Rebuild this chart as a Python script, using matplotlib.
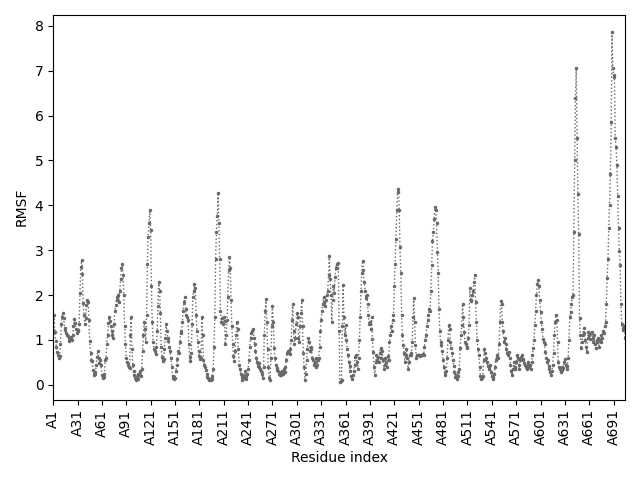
import matplotlib
matplotlib.use("Agg")
import matplotlib.pyplot as plt
import numpy as np

# RMSF per residue (chain A, residues 1..705)
rmsf = [
    1.22, 1.55, 1.18, 0.98, 0.85, 0.72, 0.66, 0.60, 0.64, 0.92,
    1.35, 1.52, 1.59, 1.48, 1.27, 1.22, 1.15, 1.12, 1.08, 1.04,
    0.98, 1.02, 1.06, 0.99, 1.10, 1.30, 1.46, 1.38, 1.25, 1.16,
    1.20, 1.22, 1.35, 2.05, 2.62, 2.77, 2.48, 1.82, 1.55, 1.35,
    1.48, 1.78, 1.90, 1.85, 1.45, 0.97, 0.70, 0.55, 0.52, 0.34,
    0.22, 0.28, 0.25, 0.45, 0.62, 0.75, 0.60, 0.48, 0.55, 0.45,
    0.22, 0.15, 0.18, 0.25, 0.55, 0.60, 0.92, 1.10, 1.38, 1.50,
    1.42, 1.30, 1.20, 1.12, 1.05, 1.35, 1.65, 1.78, 1.90, 1.96,
    2.00, 1.85, 2.10, 2.35, 2.60, 2.70, 2.45, 2.00, 1.30, 0.90,
    0.60, 0.50, 0.45, 0.40, 0.37, 1.10, 1.50, 0.80, 0.45, 0.30,
    0.22, 0.15, 0.10, 0.18, 0.25, 0.12, 0.22, 0.30, 0.20, 0.35,
    0.75, 1.10, 1.40, 1.25, 0.95, 1.55, 2.70, 3.30, 3.60, 3.90,
    3.45, 2.20, 1.40, 0.95, 0.80, 0.75, 0.68, 0.85, 1.20, 1.75,
    2.30, 2.10, 1.60, 0.85, 0.62, 0.52, 0.58, 0.80, 1.05, 1.35,
    1.20, 1.05, 0.98, 0.85, 0.75, 0.60, 0.40, 0.20, 0.15, 0.12,
    0.15, 0.30, 0.45, 0.58, 0.75, 0.70, 0.95, 1.20, 1.15, 1.40,
    1.65, 1.85, 1.95, 1.70, 1.55, 1.50, 1.45, 0.90, 0.62, 0.52,
    0.70, 1.35, 1.95, 2.10, 2.25, 2.15, 1.55, 1.20, 0.95, 0.75,
    0.65, 0.58, 0.60, 1.50, 1.10, 0.56, 0.45, 0.40, 0.32, 0.25,
    0.18, 0.15, 0.10, 0.12, 0.10, 0.12, 0.20, 0.35, 0.85, 1.50,
    2.80, 3.40, 3.75, 4.28, 3.60, 2.80, 1.65, 1.40, 1.48, 1.35,
    1.50, 1.42, 0.90, 1.10, 1.45, 1.95, 2.55, 2.85, 2.60, 1.90,
    1.30, 0.90, 0.65, 0.52, 0.75, 1.10, 1.39, 1.25, 0.80, 0.45,
    0.35, 0.25, 0.18, 0.11, 0.22, 0.15, 0.30, 0.20, 0.12, 0.25,
    0.35, 0.55, 0.85, 1.05, 1.15, 1.20, 1.24, 1.05, 0.90, 0.75,
    0.60, 0.50, 0.42, 0.48, 0.40, 0.35, 0.30, 0.25, 0.15, 0.40,
    1.10, 1.65, 1.91, 1.40, 0.80, 0.40, 0.15, 0.11, 0.60, 1.30,
    1.76, 1.40, 0.82, 0.60, 0.45, 0.37, 0.34, 0.30, 0.25, 0.22,
    0.28, 0.22, 0.30, 0.25, 0.35, 0.28, 0.40, 0.55, 0.70, 0.75,
    0.72, 0.68, 0.80, 1.00, 1.45, 1.80, 1.20, 0.90, 1.05, 1.35,
    1.60, 1.50, 1.05, 0.95, 1.30, 1.60, 1.90, 1.30, 0.70, 0.40,
    0.11, 0.25, 0.55, 0.80, 1.05, 0.95, 0.75, 0.85, 0.80, 0.60,
    0.55, 0.45, 0.50, 0.40, 0.60, 0.45, 0.55, 0.60, 0.85, 1.20,
    1.45, 1.65, 1.80, 1.95, 1.85, 1.75, 1.90, 2.00, 2.10, 2.45,
    2.88, 2.35, 2.00, 1.40, 1.90, 2.20, 2.05, 2.40, 2.60, 2.70,
    2.60, 2.72, 1.20, 0.06, 0.08, 0.10, 1.30, 2.23, 1.50, 1.10,
    1.33, 1.00, 0.80, 0.66, 0.50, 0.43, 0.30, 0.20, 0.13, 0.22,
    0.30, 0.45, 0.62, 0.66, 0.50, 0.36, 0.60, 1.00, 1.50, 2.10,
    2.50, 2.76, 2.55, 2.30, 2.10, 1.93, 2.00, 1.80, 1.56, 1.35,
    1.40, 1.25, 1.50, 1.03, 0.73, 0.40, 0.21, 0.50, 0.66, 0.55,
    0.62, 0.51, 0.70, 0.81, 0.60, 0.75, 0.55, 0.36, 0.45, 0.60,
    0.50, 0.40, 0.65, 0.55, 0.96, 1.10, 1.30, 1.20, 1.45, 1.56,
    2.20, 2.70, 3.25, 3.90, 4.30, 4.37, 3.90, 3.07, 2.50, 1.56,
    1.10, 0.88, 0.70, 0.51, 0.66, 0.80, 0.60, 0.36, 0.50, 0.66,
    0.66, 0.70, 0.95, 1.50, 1.93, 1.40, 0.88, 0.60, 0.66, 0.66,
    0.66, 0.66, 0.65, 0.66, 0.66, 0.68, 0.66, 0.85, 1.00, 1.10,
    1.30, 1.45, 1.56, 1.70, 1.65, 2.10, 2.68, 3.20, 3.40, 3.70,
    3.96, 3.90, 3.60, 2.95, 2.50, 1.70, 1.20, 0.96, 0.88, 0.75,
    0.55, 0.40, 0.28, 0.21, 0.30, 0.60, 1.00, 1.33, 1.25, 0.96,
    0.81, 0.70, 0.55, 0.43, 0.28, 0.18, 0.22, 0.13, 0.28, 0.20,
    0.35, 0.81, 1.10, 1.33, 1.80, 1.50, 1.18, 0.95, 0.90, 0.81,
    0.85, 1.05, 1.33, 2.15, 1.90, 1.86, 2.00, 2.10, 2.30, 2.45,
    1.85, 1.40, 1.00, 0.80, 0.66, 0.40, 0.20, 0.13, 0.15, 0.20,
    0.55, 0.80, 0.70, 0.60, 0.50, 0.43, 0.40, 0.36, 0.45, 0.28,
    0.20, 0.13, 0.18, 0.25, 0.40, 0.55, 0.62, 0.66, 0.60, 0.90,
    1.40, 1.86, 1.80, 1.40, 1.20, 0.96, 1.05, 0.90, 0.80, 0.70,
    0.66, 0.73, 0.60, 0.45, 0.30, 0.21, 0.35, 0.50, 0.40, 0.36,
    0.50, 0.66, 0.60, 0.45, 0.36, 0.55, 0.62, 0.66, 0.55, 0.58,
    0.48, 0.45, 0.40, 0.36, 0.45, 0.50, 0.40, 0.45, 0.36, 0.50,
    0.66, 0.81, 1.00, 1.33, 1.65, 2.00, 2.25, 2.34, 2.20, 1.90,
    1.63, 1.40, 1.25, 1.03, 0.95, 0.90, 0.73, 0.60, 0.50, 0.55,
    0.43, 0.35, 0.28, 0.21, 0.30, 0.45, 0.70, 1.10, 1.40, 1.56,
    1.45, 0.95, 0.50, 0.40, 0.35, 0.28, 0.32, 0.40, 0.38, 0.50,
    0.58, 0.45, 0.36, 0.42, 0.60, 1.00, 1.50, 1.63, 1.80, 1.95,
    2.00, 3.40, 5.00, 6.40, 7.06, 5.50, 4.25, 3.36, 1.48, 1.10,
    0.81, 0.95, 1.10, 1.26, 1.15, 1.00, 0.85, 0.73, 1.05, 1.18,
    1.10, 1.03, 1.15, 1.18, 1.05, 0.95, 1.10, 0.90, 0.81, 1.00,
    0.95, 1.05, 0.85, 1.00, 1.10, 0.95, 1.05, 1.20, 1.15, 1.30,
    1.41, 1.80, 2.38, 2.80, 3.50, 4.00, 4.70, 5.85, 7.85, 7.05,
    6.90, 6.85, 5.50, 5.30, 4.90, 4.20, 3.50, 2.98, 2.68, 1.80,
    1.35, 1.26, 1.22, 1.30, 1.05,
]
residue_labels = [f"A{i + 1}" for i in range(len(rmsf))]
tick_step = 30

positions = np.arange(len(rmsf))

fig, ax = plt.subplots(figsize=(6.4, 4.8), dpi=100)
ax.plot(positions, rmsf, linestyle=":", marker=".", markersize=3,
        linewidth=1, color="dimgray")
ax.set_xlim(positions[0], positions[-1])
ax.set_xticks(positions[::tick_step])
ax.set_xticklabels(residue_labels[::tick_step], rotation=90)
ax.set_xlabel("Residue index")
ax.set_ylabel("RMSF")

fig.tight_layout()
fig.savefig("out.png", dpi=100)
